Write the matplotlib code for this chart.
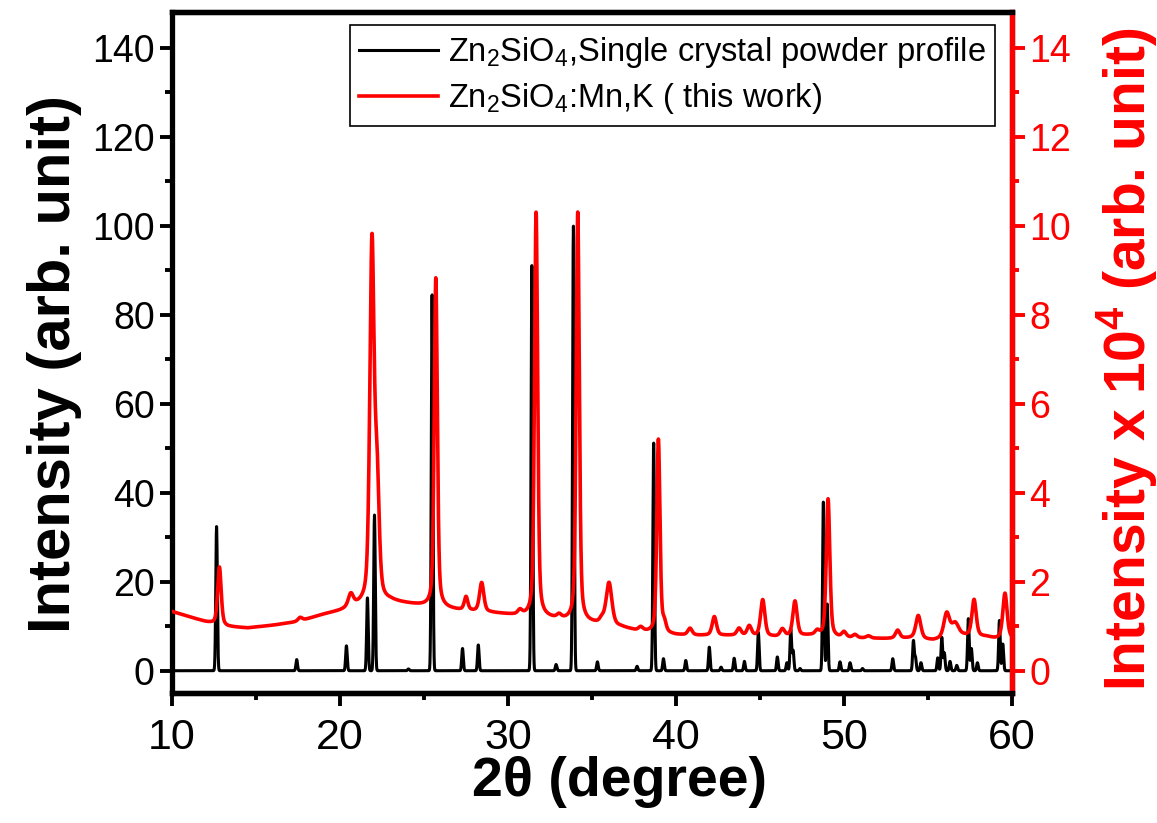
import numpy as np
import matplotlib
matplotlib.use("Agg")
import matplotlib.pyplot as plt
from matplotlib.ticker import MultipleLocator

plt.rcParams['font.family'] = ['Liberation Sans', 'DejaVu Sans']
plt.rcParams['mathtext.fontset'] = 'custom'
plt.rcParams['mathtext.rm'] = 'Liberation Sans'
plt.rcParams['mathtext.bf'] = 'Liberation Sans:bold'
plt.rcParams['mathtext.default'] = 'regular'

# Reference pattern (single crystal powder profile): peak positions (2theta) and heights
ref_pos = [12.65, 17.42, 20.38, 21.63, 22.05, 24.07, 25.48, 27.29, 28.23, 31.42,
           32.86, 33.89, 35.32, 37.68, 38.67, 39.25, 40.58, 41.98, 42.68, 43.46,
           44.07, 44.90, 46.03, 46.60, 46.83, 46.97, 47.38, 48.77, 49.00, 49.76,
           50.36, 51.10, 52.90, 54.13, 54.25, 54.58, 55.58, 55.82, 55.97, 56.31,
           56.71, 57.40, 57.58, 57.94, 59.25, 59.45]
ref_int = [32.4, 2.5, 5.6, 16.4, 35.0, 0.4, 84.7, 5.0, 5.8, 91.3,
           1.4, 100.0, 2.0, 1.0, 51.3, 2.7, 2.3, 5.3, 0.8, 2.8,
           2.1, 8.6, 3.1, 1.8, 9.4, 4.5, 0.5, 38.0, 15.0, 2.0,
           1.8, 0.5, 2.7, 6.7, 3.0, 1.8, 2.9, 7.5, 4.0, 2.1,
           1.2, 11.7, 5.0, 1.8, 11.3, 6.0]
ref_fwhm = 0.11

# Measured Zn2SiO4:Mn,K pattern (x 10^4): background and fitted peaks
bg_pos = [10.0, 12.0, 13.3, 14.5, 16.0, 17.5, 19.0, 20.0, 21.0, 23.0, 25.0,
          26.2, 27.0, 29.0, 30.5, 32.3, 33.5, 35.0, 36.7, 37.6, 38.4, 40.0,
          41.4, 43.4, 45.9, 48.0, 49.6, 51.0, 52.5, 54.0, 55.3, 57.1, 58.5,
          59.0, 60.0]
bg_int = [1.33, 1.10, 0.99, 0.96, 1.02, 1.10, 1.26, 1.34, 1.45, 1.55, 1.45,
          1.40, 1.36, 1.30, 1.24, 1.18, 1.12, 1.06, 0.98, 0.90, 0.86, 0.80,
          0.79, 0.79, 0.76, 0.79, 0.74, 0.73, 0.72, 0.73, 0.68, 0.78, 0.76,
          0.72, 0.72]
pk_pos = [12.82, 17.62, 20.64, 21.90, 22.20, 25.70, 27.50, 28.43, 30.71, 31.67,
          33.04, 34.15, 35.58, 36.01, 37.90, 38.95, 39.30, 40.83, 42.28, 43.75,
          44.36, 45.16, 46.33, 47.08, 48.40, 49.05, 50.00, 50.65, 51.45, 53.19,
          54.42, 56.11, 56.61, 57.74, 59.58]
pk_amp = [1.30, 0.08, 0.28, 8.0, 2.6, 7.4, 0.30, 0.65, 0.10, 9.1,
          0.08, 9.2, 0.10, 0.95, 0.08, 4.35, 0.20, 0.15, 0.42, 0.16,
          0.22, 0.82, 0.16, 0.78, 0.10, 3.1, 0.12, 0.07, 0.05, 0.18,
          0.52, 0.55, 0.30, 0.82, 1.02]
pk_fwhm = [0.25, 0.30, 0.35, 0.30, 0.30, 0.22, 0.25, 0.30, 0.30, 0.22,
           0.30, 0.22, 0.30, 0.40, 0.30, 0.22, 0.25, 0.30, 0.30, 0.30,
           0.30, 0.30, 0.30, 0.30, 0.30, 0.25, 0.30, 0.30, 0.30, 0.30,
           0.35, 0.40, 0.50, 0.30, 0.30]
eta = 0.45  # Lorentzian fraction of the pseudo-Voigt profile

two_theta = np.linspace(10, 60, 6001)


def gauss(x, c, w):
    return np.exp(-4 * np.log(2) * ((x - c) / w) ** 2)


def pvoigt(x, c, w):
    lor = 1.0 / (1.0 + 4 * ((x - c) / w) ** 2)
    return eta * lor + (1 - eta) * gauss(x, c, w)


ref_curve = np.zeros_like(two_theta)
for c, h in zip(ref_pos, ref_int):
    ref_curve += h * gauss(two_theta, c, ref_fwhm)

meas_curve = np.interp(two_theta, bg_pos, bg_int)
for c, a, w in zip(pk_pos, pk_amp, pk_fwhm):
    meas_curve += a * pvoigt(two_theta, c, w)

fig = plt.figure(figsize=(11.57, 8.23), dpi=100)
ax = fig.add_axes([0.1487, 0.158, 0.726, 0.827])
ax2 = ax.twinx()

l1, = ax.plot(two_theta, ref_curve, color='black', lw=2.2,
              label='Zn$_2$SiO$_4$,Single crystal powder profile')
l2, = ax2.plot(two_theta, meas_curve, color='red', lw=2.6,
               label='Zn$_2$SiO$_4$:Mn,K ( this work)')

ax.set_xlim(10, 60)
ax.set_ylim(-5, 148)
ax2.set_ylim(-0.5, 14.8)

ax.xaxis.set_major_locator(MultipleLocator(10))
ax.xaxis.set_minor_locator(MultipleLocator(5))
ax.yaxis.set_major_locator(MultipleLocator(20))
ax.yaxis.set_minor_locator(MultipleLocator(10))
ax2.yaxis.set_major_locator(MultipleLocator(2))
ax2.yaxis.set_minor_locator(MultipleLocator(1))

for a in (ax, ax2):
    for s in a.spines.values():
        s.set_linewidth(3.8)
ax2.spines['right'].set_color('red')
ax2.spines['left'].set_visible(False)

ax.tick_params(axis='both', which='major', direction='out', length=9, width=2.8,
               top=False, right=False)
ax.tick_params(axis='both', which='minor', direction='out', length=5, width=2.8,
               top=False, right=False)
ax.tick_params(axis='y', labelsize=27)
ax.tick_params(axis='x', labelsize=31, pad=9)
ax2.tick_params(axis='y', which='major', direction='out', length=9, width=2.8,
                labelsize=27, colors='red')
ax2.tick_params(axis='y', which='minor', direction='out', length=5, width=2.8,
                colors='red')

ax.set_xlabel('2θ (degree)', fontsize=40, fontweight='bold')
ax.xaxis.set_label_coords(0.533, -0.092)
ax.set_ylabel('Intensity (arb. unit)', fontsize=43, fontweight='bold')
ax.yaxis.set_label_coords(-0.107, 0.483)
ax2.set_ylabel('Intensity x 10$^{\\mathbf{4}}$ (arb. unit)', fontsize=41,
               fontweight='bold', color='red')
ax2.yaxis.set_label_coords(1.098, 0.49)

leg = ax.legend(handles=[l1, l2], loc='upper right', bbox_to_anchor=(0.98, 0.981),
                fontsize=23.5, frameon=True, fancybox=False, framealpha=1,
                edgecolor='black', handlelength=2.4, handletextpad=0.3,
                borderaxespad=0, labelspacing=0.35, borderpad=0.3)
leg.get_frame().set_linewidth(1.2)

fig.savefig('out.png', dpi=100)
